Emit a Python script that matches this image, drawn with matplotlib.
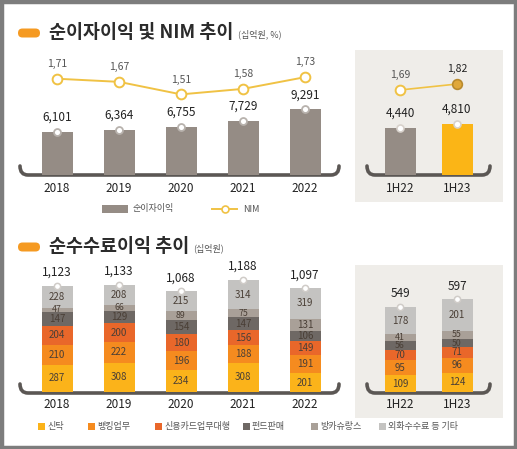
import matplotlib
matplotlib.use("Agg")
import matplotlib.pyplot as plt
from matplotlib.path import Path
import matplotlib.patches as mpatches

plt.rcParams['font.family'] = ['Noto Sans CJK KR', 'DejaVu Sans']

# ---- data ----
years = ['2018', '2019', '2020', '2021', '2022']
nii = [6101, 6364, 6755, 7729, 9291]
nim = [1.71, 1.67, 1.51, 1.58, 1.73]

halves = ['1H22', '1H23']
nii_h = [4440, 4810]
nim_h = [1.69, 1.82]

fee_names = ['신탁', '뱅킹업무', '신용카드업무대행', '펀드판매', '방카슈랑스', '외화수수료 등 기타']
fee_trust = [287, 308, 234, 308, 201]
fee_banking = [210, 222, 196, 188, 191]
fee_card = [204, 200, 180, 156, 149]
fee_fund = [147, 129, 154, 147, 106]
fee_banca = [47, 66, 89, 75, 131]
fee_other = [228, 208, 215, 314, 319]
fee_total = [1123, 1133, 1068, 1188, 1097]

fee_trust_h = [109, 124]
fee_banking_h = [95, 96]
fee_card_h = [70, 71]
fee_fund_h = [56, 50]
fee_banca_h = [41, 55]
fee_other_h = [178, 201]
fee_total_h = [549, 597]

# ---- colours ----
C_NII = '#958c85'
C_NII_H = '#fbb516'
C_NIM = '#f0c244'
C_FEE = ['#fbb31a', '#f58b1f', '#e9672a', '#6e6864', '#a9a098', '#c4c3c1']
C_BOX = '#efede9'
C_BRACKET = '#5b5754'

W, H = 517, 449
fig = plt.figure(figsize=(W / 100, H / 100), dpi=100)
fig.patch.set_facecolor('white')


def px_axes(x0, y0, x1, y1, **kw):
    return fig.add_axes([x0 / W, 1 - y1 / H, (x1 - x0) / W, (y1 - y0) / H], **kw)


# overlay for decorations, in pixel coordinates
deco = px_axes(0, 0, W, H, zorder=0)
deco.set_xlim(0, W)
deco.set_ylim(H, 0)
deco.axis('off')

# grey frame
deco.add_patch(mpatches.Rectangle((1.5, 1.5), W - 3, H - 3, fill=False,
                                  ec='#7d7d7d', lw=3.2))
# beige side boxes
deco.add_patch(mpatches.Rectangle((355, 50), 148, 152, fc=C_BOX, ec='none'))
deco.add_patch(mpatches.Rectangle((355, 265), 148, 153, fc=C_BOX, ec='none'))


def bracket(x0, x1, y, up=9):
    verts = [(x0, y - up), (x0, y), (x0 + 8, y), (x1 - 8, y), (x1, y), (x1, y - up)]
    codes = [Path.MOVETO, Path.CURVE3, Path.CURVE3, Path.LINETO, Path.CURVE3, Path.CURVE3]
    deco.add_patch(mpatches.PathPatch(Path(verts, codes), fill=False,
                                      ec=C_BRACKET, lw=2.6, capstyle='round', zorder=5))


bracket(20, 339, 175)
bracket(367, 490, 175)
bracket(20, 339, 393)
bracket(367, 490, 393)


def title(y, text, sub, sub_x):
    deco.add_patch(mpatches.FancyBboxPatch((18, y - 4.5), 22, 9,
                                           boxstyle='round,pad=0,rounding_size=4.5',
                                           fc='#f59a22', ec='none'))
    deco.text(49, y, text, fontsize=13.3, fontweight='bold', color='#2b2b2b',
              va='center', ha='left')
    deco.text(sub_x, y + 1, sub, fontsize=6.5, color='#555555', va='center', ha='left')


title(33, '순이자이익 및 NIM 추이', '(십억원, %)', 238)
title(247, '순수수료이익 추이', '(십억원)', 193)

# ---- top left: net interest income + NIM ----
ax1 = px_axes(20, 60, 340, 175)
x = list(range(len(years)))
ax1.bar(x, nii, width=0.5, color=C_NII, zorder=2)
ax1.set_xlim(-(57 - 20) / 62, (340 - 57) / 62)
ax1.set_ylim(0, 115 / 0.00705)
ax1.plot(x, nii, ls='none', marker='o', ms=5, mfc='white', mec='#b8b2ad', mew=1.3, zorder=3)
for i, v in enumerate(nii):
    ax1.annotate(f'{v:,}', (i, v), xytext=(0, 6), textcoords='offset points',
                 ha='center', va='bottom', fontsize=8.5, color='#222222')
ax1.axis('off')
for i, yr in enumerate(years):
    ax1.text(i, -13 / 115 * ax1.get_ylim()[1], yr, ha='center', va='center',
             fontsize=8.5, color='#222222')

ax1b = ax1.twinx()
ax1b.set_ylim(1.64 - (175 - 84.2) / 78.2, 1.64 + (84.2 - 60) / 78.2)
ax1b.plot(x, nim, color=C_NIM, lw=1.4, marker='o', ms=7, mfc='white', mec=C_NIM, mew=1.4)
for i, v in enumerate(nim):
    ax1b.annotate(f'{v:.2f}'.replace('.', ','), (i, v), xytext=(0, 7),
                  textcoords='offset points', ha='center', va='bottom',
                  fontsize=7.5, color='#555555')
ax1b.axis('off')

# legend top
deco.add_patch(mpatches.Rectangle((102, 205), 26, 8, fc=C_NII, ec='none'))
deco.text(133, 209, '순이자이익', fontsize=6.5, color='#555555', va='center')
deco.plot([212, 237], [209, 209], color=C_NIM, lw=1.4)
deco.plot([224.5], [209], marker='o', ms=5, mfc='white', mec=C_NIM, mew=1.2)
deco.text(243, 209, 'NIM', fontsize=6.5, color='#555555', va='center')

# ---- top right: half year ----
ax2 = px_axes(355, 60, 503, 175)
xh = list(range(len(halves)))
ax2.bar(xh, nii_h, width=31 / 57, color=[C_NII, C_NII_H], zorder=2)
ax2.set_xlim(-(400 - 355) / 57, (503 - 400) / 57)
ax2.set_ylim(0, 115 / 0.0106)
ax2.plot(xh, nii_h, ls='none', marker='o', ms=5, mfc='white', mec='#d8d2cc', mew=1.2, zorder=3)
for i, v in enumerate(nii_h):
    ax2.annotate(f'{v:,}', (i, v), xytext=(0, 6), textcoords='offset points',
                 ha='center', va='bottom', fontsize=8.5, color='#222222')
    ax2.text(i, -13 / 115 * ax2.get_ylim()[1], halves[i], ha='center', va='center',
             fontsize=8.5, color='#222222')
ax2.axis('off')

ax2b = ax2.twinx()
ax2b.set_ylim(1.69 - 85 / 46, 1.69 + 30 / 46)
ax2b.plot(xh, nim_h, color=C_NIM, lw=1.2)
ax2b.plot(xh[0], nim_h[0], marker='o', ms=7, mfc='white', mec=C_NIM, mew=1.4)
ax2b.plot(xh[1], nim_h[1], marker='o', ms=7, mfc='#e0a83a', mec='#b88a2e', mew=1.2)
for i, v in enumerate(nim_h):
    ax2b.annotate(f'{v:.2f}'.replace('.', ','), (i, v), xytext=(0, 7),
                  textcoords='offset points', ha='center', va='bottom',
                  fontsize=7.5, color='#555555' if i == 0 else '#222222')
ax2b.axis('off')


# ---- bottom: stacked fee income ----
def stacked(ax, series, totals, labels, scale, width):
    n = len(labels)
    bottoms = [0] * n
    for s, col in zip(series, C_FEE):
        ax.bar(range(n), s, bottom=bottoms, width=width, color=col, zorder=2)
        for i, v in enumerate(s):
            fs = 7 if v * scale >= 9 else 6.3
            ax.text(i, bottoms[i] + v / 2, str(v), ha='center', va='center',
                    fontsize=fs, color='#4a3f36', zorder=4)
        bottoms = [b + v for b, v in zip(bottoms, s)]
    ax.plot(range(n), totals, ls='none', marker='o', ms=4.5, mfc='white',
            mec='#d0ccc8', mew=1.1, zorder=3)
    for i, v in enumerate(totals):
        ax.annotate(f'{v:,}', (i, v), xytext=(0, 5), textcoords='offset points',
                    ha='center', va='bottom', fontsize=8.5, color='#222222')
        ax.text(i, -12 / scale, labels[i], ha='center', va='center',
                fontsize=8.5, color='#222222')
    ax.axis('off')


ax3 = px_axes(20, 270, 340, 392)
ax3.set_xlim(-(57 - 20) / 62, (340 - 57) / 62)
ax3.set_ylim(0, 122 / 0.0944)
stacked(ax3, [fee_trust, fee_banking, fee_card, fee_fund, fee_banca, fee_other],
        fee_total, years, 0.0944, 0.5)

ax4 = px_axes(355, 270, 503, 392)
ax4.set_xlim(-(400 - 355) / 57, (503 - 400) / 57)
ax4.set_ylim(0, 122 / 0.155)
stacked(ax4, [fee_trust_h, fee_banking_h, fee_card_h, fee_fund_h, fee_banca_h, fee_other_h],
        fee_total_h, halves, 0.155, 31 / 57)

# bottom legend
leg_x = [41, 91, 158, 246, 314, 382]
for lx, name, col in zip(leg_x, fee_names, C_FEE):
    deco.add_patch(mpatches.Rectangle((lx - 3.5, 422.5), 7, 7, fc=col, ec='none'))
    deco.text(lx + 6, 426, name, fontsize=6.5, color='#555555', va='center')

fig.savefig('out.png', dpi=100)
